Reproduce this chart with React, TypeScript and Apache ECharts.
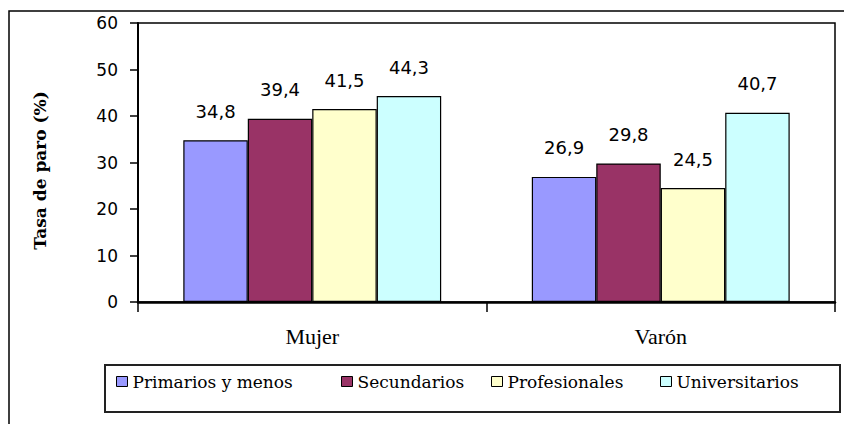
import React, { useEffect, useRef } from "react";
import * as echarts from "echarts";

const categories = ["Mujer", "Varón"];
const seriesNames = ["Primarios y menos", "Secundarios", "Profesionales", "Universitarios"];
const primarios = [34.8, 26.9];
const secundarios = [39.4, 29.8];
const profesionales = [41.5, 24.5];
const universitarios = [44.3, 40.7];
const yTicks = [0, 10, 20, 30, 40, 50, 60];

const colors = ["#9999FF", "#993366", "#FFFFCC", "#CCFFFF"];
const legendLefts = [116, 341, 491, 660];

export default function App() {
  const ref = useRef<HTMLDivElement>(null);
  useEffect(() => {
    if (!ref.current) return;
    const chart = echarts.init(ref.current, null, { renderer: "svg" });
    const values = [primarios, secundarios, profesionales, universitarios];
    const legendText = {
      color: "#000",
      fontFamily: "'DejaVu Serif', serif",
      fontSize: 17,
    };
    const option: any = {
      animation: false,
      backgroundColor: "#ffffff",
      grid: {
        left: 138,
        right: 9,
        top: 23,
        bottom: 122,
        show: true,
        borderColor: "#000",
        borderWidth: 1.5,
        containLabel: false,
      },
      xAxis: {
        type: "category",
        data: categories,
        axisLine: { lineStyle: { color: "#000", width: 2.5 } },
        axisTick: { show: true, length: 10, lineStyle: { color: "#000", width: 1.5 } },
        axisLabel: {
          color: "#000",
          fontFamily: "'Liberation Serif', serif",
          fontSize: 22,
          margin: 23,
        },
        splitLine: { show: false },
      },
      yAxis: {
        type: "value",
        min: yTicks[0],
        max: yTicks[yTicks.length - 1],
        interval: 10,
        name: "Tasa de paro (%)",
        nameLocation: "middle",
        nameRotate: 90,
        nameGap: 90,
        nameTextStyle: {
          color: "#000",
          fontFamily: "'DejaVu Serif', serif",
          fontWeight: "bold",
          fontSize: 17,
          padding: [0, 16, 0, 0],
        },
        axisLine: { show: true, lineStyle: { color: "#000", width: 2 } },
        axisTick: { show: true, inside: false, length: 8, lineStyle: { color: "#000", width: 1.5 } },
        axisLabel: {
          color: "#000",
          fontFamily: "'DejaVu Sans', sans-serif",
          fontSize: 17,
          margin: 20,
        },
        splitLine: { show: false },
      },
      legend: seriesNames.map((n, i) => ({
        left: legendLefts[i],
        top: 373,
        itemWidth: 11,
        itemHeight: 10,
        itemGap: 0,
        icon: "rect",
        padding: 0,
        data: [n],
        itemStyle: { borderColor: "#000", borderWidth: 1 },
        textStyle: legendText,
      })),
      graphic: [
        {
          type: "rect",
          shape: { x: 9, y: 11, width: 900, height: 500 },
          style: { fill: "none", stroke: "#000", lineWidth: 1.5 },
          silent: true,
          z: -10,
        },
        {
          type: "rect",
          shape: { x: 105, y: 365, width: 735, height: 47 },
          style: { fill: "none", stroke: "#222", lineWidth: 2 },
          silent: true,
        },
      ],
      series: seriesNames.map((n, i) => ({
        name: n,
        type: "bar",
        data: values[i],
        barGap: 0,
        barCategoryGap: "26%",
        itemStyle: { color: colors[i], borderColor: "#000", borderWidth: 1.2 },
        label: {
          show: true,
          position: "top",
          distance: 20,
          color: "#000",
          fontFamily: "'DejaVu Sans', sans-serif",
          fontSize: 18,
          formatter: (p: any) => String(p.value).replace(".", ","),
        },
      })),
    };
    chart.setOption(option);
    return () => chart.dispose();
  }, []);
  return (
    <div
      ref={ref}
      style={{ position: "fixed", left: 0, top: 0, width: 844, height: 424, background: "#fff" }}
    />
  );
}
